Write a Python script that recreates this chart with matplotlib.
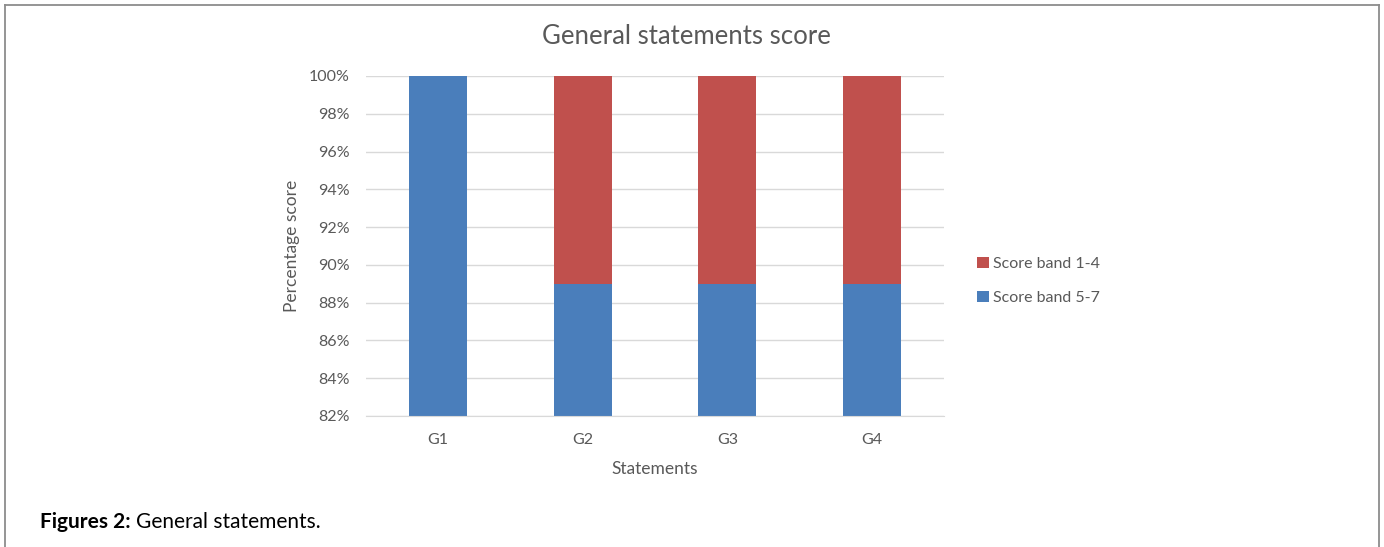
import matplotlib
matplotlib.use("Agg")
import matplotlib.pyplot as plt
from matplotlib.lines import Line2D
from matplotlib.ticker import FuncFormatter, MultipleLocator

statements = ["G1", "G2", "G3", "G4"]
band_5_7 = [100, 89, 89, 89]
band_1_4 = [0, 11, 11, 11]

BLUE = "#4a7ebb"
RED = "#c0504d"
TEXT = "#595959"
GRID = "#d9d9d9"

plt.rcParams["font.family"] = ["Lato", "DejaVu Sans"]

W, H = 1384, 547
fig = plt.figure(figsize=(W / 100, H / 100), dpi=100)
ax = fig.add_axes([366 / W, 1 - 416 / H, 578 / W, 340 / H])

x = range(len(statements))
ax.bar(x, band_5_7, width=0.4, color=BLUE, label="Score band 5-7", zorder=2)
ax.bar(x, band_1_4, width=0.4, bottom=band_5_7, color=RED,
       label="Score band 1-4", zorder=2)

ax.set_xlim(-0.5, len(statements) - 0.5)
ax.set_ylim(82, 100)
ax.yaxis.set_major_locator(MultipleLocator(2))
ax.yaxis.set_major_formatter(FuncFormatter(lambda v, _: f"{v:.0f}%"))
ax.set_xticks(list(x))
ax.set_xticklabels(statements)
ax.grid(axis="y", color=GRID, lw=1, zorder=0)
ax.tick_params(length=0, colors=TEXT, labelsize=11.5)
ax.tick_params(axis="y", pad=12)
ax.tick_params(axis="x", pad=12)
for side in ("top", "right", "left"):
    ax.spines[side].set_visible(False)
ax.spines["bottom"].set_color(GRID)

# chart title sits over the whole chart box, not just the axes
fig.text(686 / W, 1 - 37 / H, "General statements score", color=TEXT,
         fontsize=18.5, ha="center", va="center")
ax.set_xlabel("Statements", color=TEXT, fontsize=12.5, labelpad=10)
ax.set_ylabel("Percentage score", color=TEXT, fontsize=12.5, labelpad=6)

handles, labels = ax.get_legend_handles_labels()
fig.legend(handles[::-1], labels[::-1], loc="center left",
           bbox_to_anchor=(963 / W, 1 - 281 / H), frameon=False,
           fontsize=11.5, labelcolor=TEXT, handlelength=0.7,
           handleheight=0.7, handletextpad=0.3, labelspacing=1.25)

# page frame around the figure
fcol = "#8c8c8c"
fig.add_artist(Line2D([4.5 / W, 4.5 / W], [0, 1 - 4.5 / H],
                      transform=fig.transFigure, color=fcol, lw=1.3))
fig.add_artist(Line2D([4.5 / W, 1378.5 / W], [1 - 4.5 / H, 1 - 4.5 / H],
                      transform=fig.transFigure, color=fcol, lw=1.3))
fig.add_artist(Line2D([1378.5 / W, 1378.5 / W], [0, 1 - 4.5 / H],
                      transform=fig.transFigure, color=fcol, lw=1.3))

# caption
cap = fig.text(40 / W, 1 - 522 / H, "Figures 2:", fontsize=15,
               fontweight="bold", color="black", va="center")
fig.canvas.draw()
bb = cap.get_window_extent()
fig.text((bb.x1 + 5) / W, 1 - 522 / H, "General statements.", fontsize=15,
         color="black", va="center")

fig.savefig("out.png", dpi=100)
